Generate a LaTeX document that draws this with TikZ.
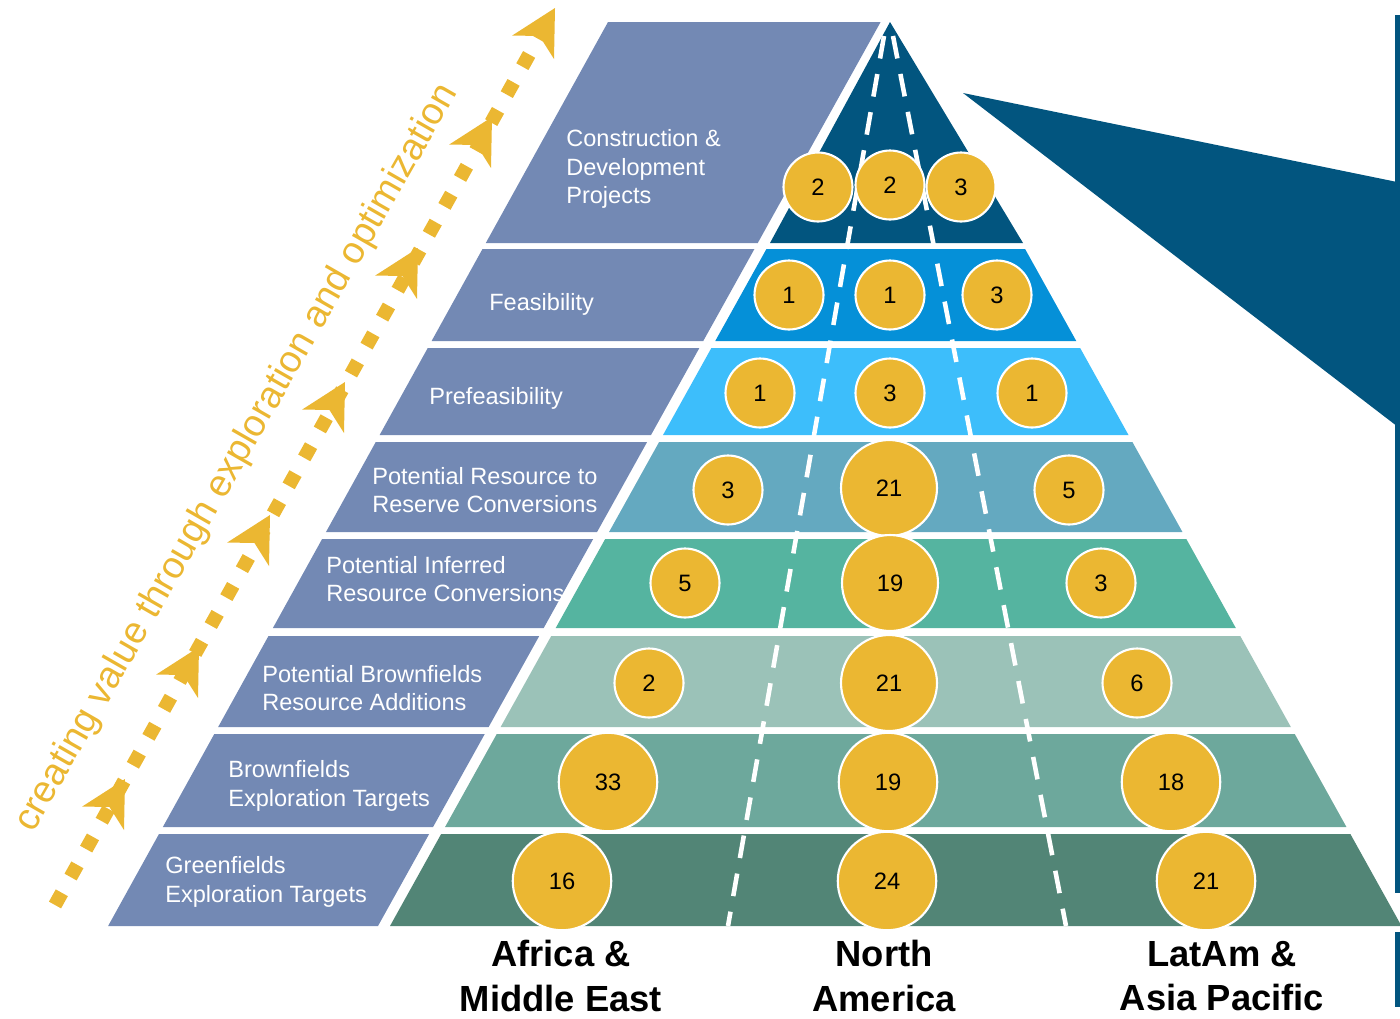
\documentclass[tikz,border=0pt]{standalone}
\usepackage{fontspec}
\setmainfont{Liberation Sans}
\usetikzlibrary{calc}

\definecolor{bandblue}{HTML}{7389B4}
\definecolor{tierA}{HTML}{02557F}
\definecolor{tierB}{HTML}{0590D8}
\definecolor{tierC}{HTML}{3DBEFB}
\definecolor{tierD}{HTML}{64A9C0}
\definecolor{tierE}{HTML}{55B4A0}
\definecolor{tierF}{HTML}{9BC2B8}
\definecolor{tierG}{HTML}{6DA89C}
\definecolor{tierH}{HTML}{528576}
\definecolor{gold}{HTML}{EBB732}

% one slice of the coloured pyramid between two heights
\newcommand\pyrslice[3]{%
  \fill[#1] ({390+0.556*(926-#2)},#2) -- ({1183+0.556*(#2-533)},#2)
    -- ({1183+0.556*(#3-533)},#3) -- ({390+0.556*(926-#3)},#3) -- cycle;}
% one slice of the slanted label band
\newcommand\bandslice[2]{%
  \fill[bandblue] ({107+0.553*(928-#1)},#1) -- ({378+0.556*(926-#1)},#1)
    -- ({378+0.556*(926-#2)},#2) -- ({107+0.553*(928-#2)},#2) -- cycle;}
% arrow head on the dotted arrow, tip at the given point
\newcommand\goldhead[1]{%
  \fill[gold] (#1) -- +(-1,51) -- +(-15.6,27.9) -- +(-42.9,27.6) -- cycle;}

\tikzset{
  stagetext/.style={text=white, align=left, anchor=west, inner sep=0pt,
    font=\fontsize{13.4}{16.2}\selectfont},
  disc/.style={circle, fill=gold, draw=white, line width=1.2pt, inner sep=0pt,
    text=black, font=\fontsize{13.5}{16}\selectfont},
  smalldisc/.style={disc, minimum size=1.38cm},
  bigdisc/.style={disc, minimum size=1.92cm},
  hugedisc/.style={disc, minimum size=1.97cm},
  divider/.style={white, line width=2.6pt, dash pattern=on 13pt off 9pt},
  region/.style={align=center, inner sep=0pt,
    font=\bfseries\fontsize{20.7}{25.5}\selectfont},
}

\begin{document}
\begin{tikzpicture}[x=0.02cm, y=-0.02cm]
\useasboundingbox (0,0) rectangle (1400,1018);

% label band
\bandslice{22}{243}
\bandslice{249}{341}
\bandslice{348}{435}
\bandslice{442}{532}
\bandslice{539}{628}
\bandslice{636}{727}
\bandslice{734}{827}
\bandslice{834}{926}

% coloured pyramid
\fill[tierA] (890,22) -- (1023,243) -- (770,243) -- cycle;
\pyrslice{tierB}{249}{341}
\pyrslice{tierC}{348}{435}
\pyrslice{tierD}{442}{532}
\pyrslice{tierE}{539}{628}
\pyrslice{tierF}{636}{727}
\pyrslice{tierG}{734}{827}
\pyrslice{tierH}{834}{926}

% regional dividers
\coordinate (dlt) at (884,36);
\coordinate (dlb) at (728,926);
\coordinate (drt) at (893,36);
\coordinate (drb) at (1066,926);
\draw[divider] (dlt) -- (dlb);
\draw[divider] (drt) -- (drb);

% stage labels
\node[stagetext] (s1) at (566,169) {Construction \&\\Development\\Projects};
\node[stagetext] (s2) at (489,304) {Feasibility};
\node[stagetext] (s3) at (429,398) {Prefeasibility};
\node[stagetext] (s4) at (372,490) {Potential Resource to\\Reserve Conversions};
\node[stagetext] (s5) at (326,579) {Potential Inferred\\Resource Conversions};
\node[stagetext] (s6) at (262,688) {Potential Brownfields\\Resource Additions};
\node[stagetext] (s7) at (228,786) {Brownfields\\Exploration Targets};
\node[stagetext] (s8) at (165,882) {Greenfields\\Exploration Targets};

% project counts
\node[smalldisc] (a1) at (818,187) {2};
\node[smalldisc] (n1) at (890,185) {2};
\node[smalldisc] (l1) at (961,187) {3};
\node[smalldisc] (a2) at (789,295) {1};
\node[smalldisc] (n2) at (890,295) {1};
\node[smalldisc] (l2) at (997,295) {3};
\node[smalldisc] (a3) at (760,393) {1};
\node[smalldisc] (n3) at (890,393) {3};
\node[smalldisc] (l3) at (1032,393) {1};
\node[smalldisc] (a4) at (728,490) {3};
\node[bigdisc]   (n4) at (889,488) {21};
\node[smalldisc] (l4) at (1069,490) {5};
\node[smalldisc] (a5) at (685,583) {5};
\node[bigdisc]   (n5) at (890,583) {19};
\node[smalldisc] (l5) at (1101,583) {3};
\node[smalldisc] (a6) at (649,683) {2};
\node[bigdisc]   (n6) at (889,683) {21};
\node[smalldisc] (l6) at (1137,683) {6};
\node[hugedisc]  (a7) at (608,782) {33};
\node[hugedisc]  (n7) at (888,782) {19};
\node[hugedisc]  (l7) at (1171,782) {18};
\node[hugedisc]  (a8) at (562,881) {16};
\node[hugedisc]  (n8) at (887,881) {24};
\node[hugedisc]  (l8) at (1206,881) {21};

% region names
\node[region] (ra) at (561,976) {Africa \&\\Middle East};
\node[region] (rn) at (884,976) {North\\America};
\node[region] (rl) at (1222,976) {LatAm \&\\Asia Pacific};

% call-out wedge and panel edge
\fill[tierA] (963,93) -- (1402,183) -- (1402,430) -- cycle;
\fill[tierA] (1395,15) rectangle (1402,893);
\fill[tierA] (1395,932) rectangle (1402,1007);

% dotted progress arrow
\coordinate (arrowfoot) at (55,905);
\coordinate (arrowtop) at (540,35);
\draw[gold, line width=7.9pt, dash pattern=on 0.28cm off 0.36cm] (arrowfoot) -- (arrowtop);
\goldhead{555,8}
\goldhead{492,117}
\goldhead{418,248}
\goldhead{345,382}
\goldhead{270,515}
\goldhead{199,647}
\goldhead{125,779}

\node[rotate=60.2, text=gold, inner sep=0pt, font=\fontsize{21.5}{24}\selectfont]
  (motto) at (237,458) {creating value through exploration and optimization};
\end{tikzpicture}
\end{document}
